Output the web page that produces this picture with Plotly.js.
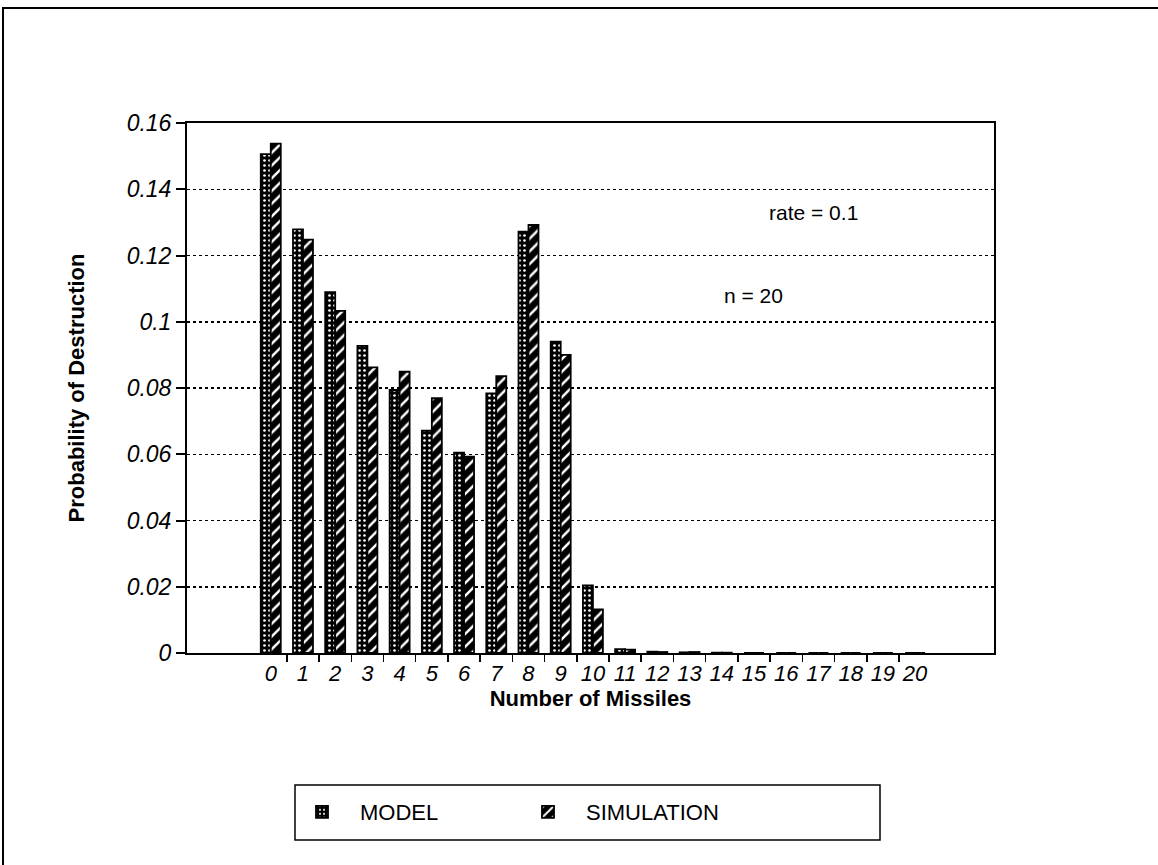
<!DOCTYPE html>
<html>
<head>
<meta charset="utf-8">
<script src="https://cdn.plot.ly/plotly-3.0.1.min.js"></script>
<style>html,body{margin:0;padding:0;background:#fff;}#chart{width:1158px;height:865px;}</style>
</head>
<body>
<div id="chart"></div>
<script>
// Data
const missiles = [0,1,2,3,4,5,6,7,8,9,10,11,12,13,14,15,16,17,18,19,20];
const tickLabels = ["0","1","2","3","4","5","6","7","8","9","10","11","12","13","14","15","16","17","18","19","20"];
const modelValues = [0.1506,0.1279,0.1089,0.0927,0.0794,0.0671,0.0605,0.0784,0.1272,0.0940,0.0204,0.0012,0.0004,0.0002,0.0001,0,0,0,0,0,0];
const simulationValues = [0.1538,0.1248,0.1033,0.0862,0.0849,0.0769,0.0593,0.0836,0.1292,0.0900,0.0132,0.0010,0.0003,0.0003,0.0001,0,0,0,0,0,0];
const boundaryTicks = [0.5,1.5,2.5,3.5,4.5,5.5,6.5,7.5,8.5,9.5,10.5,11.5,12.5,13.5,14.5,15.5,16.5,17.5,18.5,19.5];
const yTickVals = [0,0.02,0.04,0.06,0.08,0.1,0.12,0.14,0.16];
const yTickText = ["0","0.02","0.04","0.06","0.08","0.1","0.12","0.14","0.16"];

const FONT = "Liberation Sans, Arial, Helvetica, sans-serif";
// pixel -> paper helpers (plot area: x 187..994, y 123..653)
const px = v => (v - 187) / 807;
const py = v => (653 - v) / 530;

const traces = [
  {
    type: "bar", name: "MODEL", x: missiles, y: modelValues,
    marker: {
      color: "#000",
      line: {color: "#000", width: 1.8},
      pattern: {shape: ".", fgcolor: "#fff", bgcolor: "#000", size: 5, solidity: 0.22, fillmode: "replace"}
    }
  },
  {
    type: "bar", name: "SIMULATION", x: missiles, y: simulationValues,
    marker: {
      color: "#000",
      line: {color: "#000", width: 1.8},
      pattern: {shape: "/", fgcolor: "#fff", bgcolor: "#000", size: 9, solidity: 0.28, fillmode: "replace"}
    }
  }
];

const layout = {
  width: 1158, height: 865,
  margin: {l: 187, r: 164, t: 123, b: 212},
  paper_bgcolor: "#fff", plot_bgcolor: "#fff",
  font: {family: FONT, color: "#000", size: 20},
  barmode: "group", bargap: 0.38, bargroupgap: 0,
  showlegend: true,
  legend: {
    orientation: "h", x: px(284), y: py(812), xanchor: "left", yanchor: "middle",
    borderwidth: 0, bgcolor: "rgba(0,0,0,0)",
    font: {family: FONT, size: 22, color: "#000"},
    itemwidth: 66, entrywidth: 145, entrywidthmode: "pixels", tracegroupgap: 0
  },
  xaxis: {
    type: "linear", range: [-2.6, 22.45],
    tickmode: "array", tickvals: missiles, ticktext: tickLabels,
    ticks: "", showgrid: false, zeroline: false,
    showline: true, linecolor: "#000", linewidth: 2, mirror: true,
    tickfont: {family: FONT, size: 22, style: "italic", color: "#000"},
    minor: {tickmode: "array", tickvals: boundaryTicks, ticks: "outside", ticklen: 7, tickwidth: 1.5, tickcolor: "#000", showgrid: false},
    title: {text: "Number of Missiles", font: {family: FONT, size: 22, weight: "bold", color: "#000"}, standoff: 4},
    fixedrange: true
  },
  yaxis: {
    range: [0, 0.16], tickmode: "array",
    tickvals: yTickVals, ticktext: yTickText,
    ticks: "outside", ticklen: 9, tickwidth: 2, tickcolor: "#000",
    showgrid: true, gridcolor: "#000", griddash: "dot", gridwidth: 1.5,
    zeroline: false,
    showline: true, linecolor: "#000", linewidth: 2, mirror: true,
    tickfont: {family: FONT, size: 23, style: "italic", color: "#000"},
    title: {text: "Probability of Destruction", font: {family: FONT, size: 22, weight: "bold", color: "#000"}, standoff: 36},
    fixedrange: true
  },
  annotations: [
    {text: "rate = 0.1", xref: "paper", yref: "paper", x: px(813), y: py(212), showarrow: false, xanchor: "center", yanchor: "middle", font: {family: FONT, size: 21, color: "#000"}},
    {text: "n = 20", xref: "paper", yref: "paper", x: px(753), y: py(295), showarrow: false, xanchor: "center", yanchor: "middle", font: {family: FONT, size: 21, color: "#000"}}
  ],
  shapes: [
    {type: "path", xref: "paper", yref: "paper",
     path: "M " + px(3) + "," + py(870) + " L " + px(3) + "," + py(8) + " L " + px(1160) + "," + py(8),
     line: {color: "#000", width: 2}},
    {type: "rect", xref: "paper", yref: "paper",
     x0: px(295), x1: px(880), y0: py(840), y1: py(785),
     line: {color: "#000", width: 1.5}}
  ]
};

Plotly.newPlot("chart", traces, layout, {staticPlot: true, displayModeBar: false});
</script>
</body>
</html>
